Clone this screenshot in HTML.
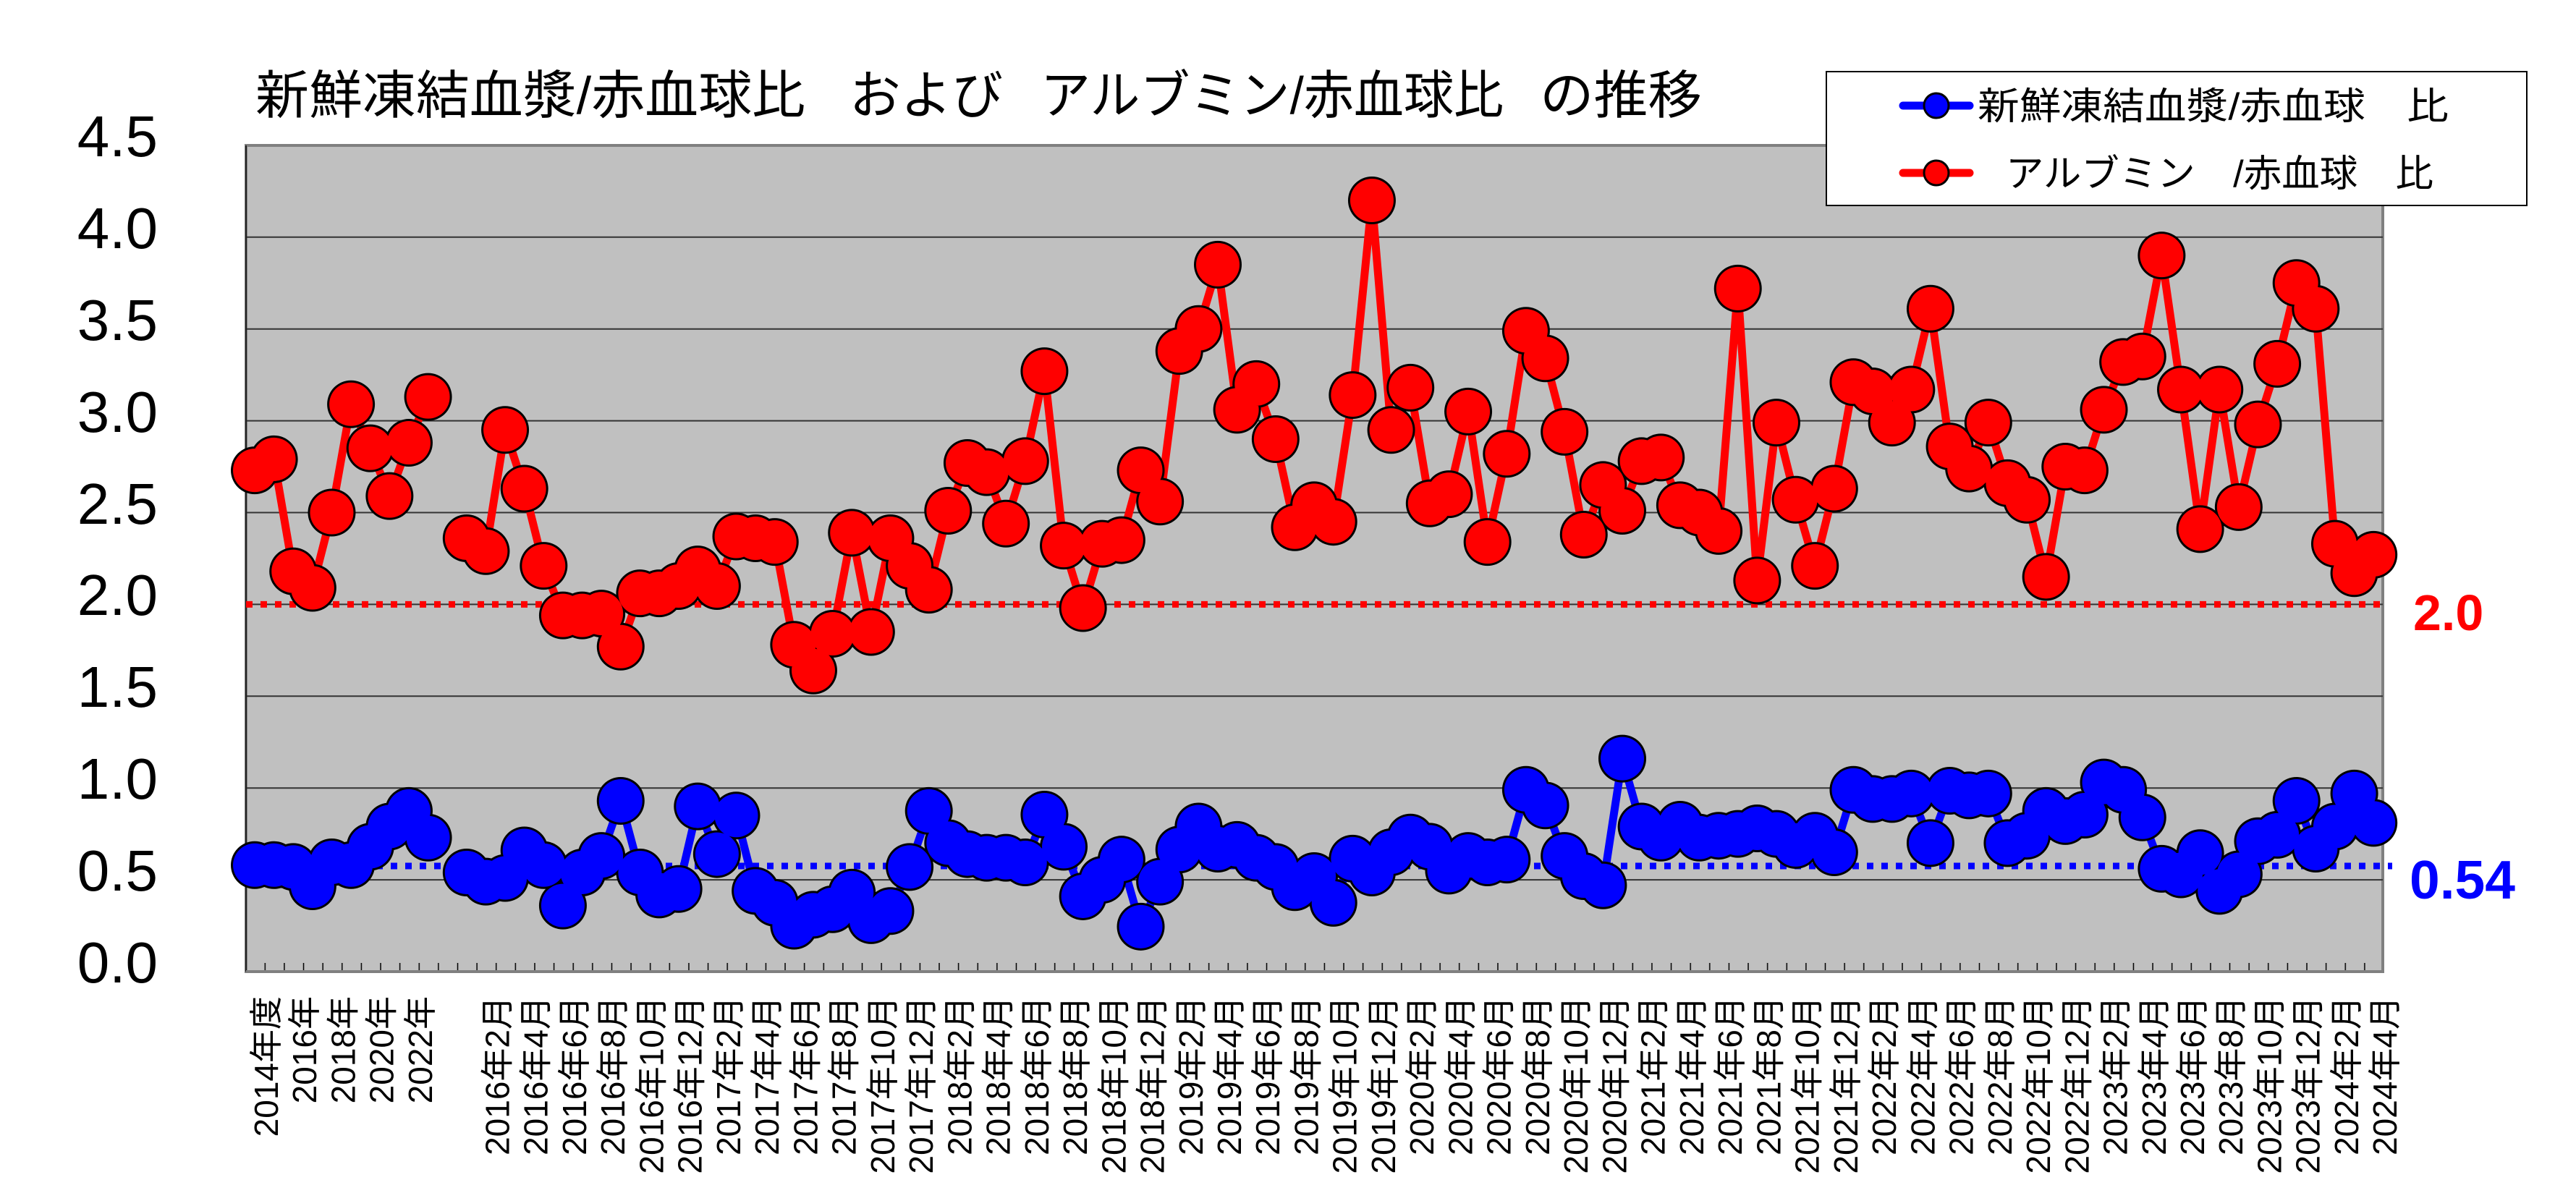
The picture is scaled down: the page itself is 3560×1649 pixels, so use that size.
<!DOCTYPE html>
<html><head><meta charset="utf-8"><style>
html,body{margin:0;padding:0;background:#fff;}
svg{display:block;}
text{font-family:"Liberation Sans","Noto Sans CJK JP",sans-serif;}
</style></head><body>
<svg width="3560" height="1649" viewBox="0 0 3560 1649" xmlns="http://www.w3.org/2000/svg">
<defs>
<pattern id="tk" patternUnits="userSpaceOnUse" x="365.31" y="0" width="26.62" height="1649">
<line x1="1" y1="0" x2="1" y2="1649" stroke="#000" stroke-width="1.5"/>
</pattern>
</defs>
<rect x="0" y="0" width="3560" height="1649" fill="#fff"/>
<rect x="340" y="201" width="2953" height="1142" fill="#c0c0c0" stroke="#808080" stroke-width="4"/>
<g stroke="#333" stroke-width="2">
<line x1="340" y1="1216.1" x2="3293" y2="1216.1"/>
<line x1="340" y1="1089.2" x2="3293" y2="1089.2"/>
<line x1="340" y1="962.3" x2="3293" y2="962.3"/>
<line x1="340" y1="835.4" x2="3293" y2="835.4"/>
<line x1="340" y1="708.5" x2="3293" y2="708.5"/>
<line x1="340" y1="581.6" x2="3293" y2="581.6"/>
<line x1="340" y1="454.7" x2="3293" y2="454.7"/>
<line x1="340" y1="327.8" x2="3293" y2="327.8"/>
</g>
<line x1="340" y1="201" x2="340" y2="1343" stroke="#222" stroke-width="2"/>
<rect x="342" y="1331" width="2950" height="12" fill="url(#tk)"/>
<line x1="340" y1="1343" x2="3293" y2="1343" stroke="#808080" stroke-width="4"/>

<line x1="340" y1="835.4" x2="3298" y2="835.4" stroke="#ff0000" stroke-width="9" stroke-dasharray="9 11"/>
<line x1="340" y1="1197" x2="3306" y2="1197" stroke="#0000ff" stroke-width="9" stroke-dasharray="9 11"/>

<g transform="translate(352,1343) scale(26.62,-253.8)" fill="none" stroke-linejoin="round">
<path vector-effect="non-scaling-stroke" stroke="#ff0000" stroke-width="11" d="M0 2.73L1 2.79L2 2.18L3 2.09L4 2.50L5 3.09L6 2.85L7 2.59L8 2.88L9 3.13
M11 2.36L12 2.29L13 2.95L14 2.63L15 2.21L16 1.94L17 1.94L18 1.95L19 1.77L20 2.06L21 2.06L22 2.10L23 2.19L24 2.10L25 2.37L26 2.36L27 2.34L28 1.78L29 1.64L30 1.84L31 2.39L32 1.85L33 2.36L34 2.21L35 2.08L36 2.51L37 2.77L38 2.72L39 2.44L40 2.78L41 3.27L42 2.32L43 1.98L44 2.33L45 2.35L46 2.73L47 2.56L48 3.38L49 3.50L50 3.85L51 3.06L52 3.20L53 2.90L54 2.42L55 2.54L56 2.45L57 3.14L58 4.20L59 2.95L60 3.18L61 2.55L62 2.60L63 3.05L64 2.34L65 2.82L66 3.49L67 3.34L68 2.94L69 2.38L70 2.65L71 2.51L72 2.78L73 2.80L74 2.54L75 2.50L76 2.40L77 3.72L78 2.13L79 2.99L80 2.57L81 2.21L82 2.63L83 3.21L84 3.16L85 2.99L86 3.17L87 3.61L88 2.86L89 2.74L90 2.99L91 2.66L92 2.57L93 2.15L94 2.75L95 2.73L96 3.06L97 3.32L98 3.35L99 3.90L100 3.17L101 2.41L102 3.17L103 2.53L104 2.98L105 3.31L106 3.75L107 3.61L108 2.33L109 2.17L110 2.27"/>
<path vector-effect="non-scaling-stroke" stroke="#000" stroke-width="66" stroke-linecap="round" d="M0 2.73h0M1 2.79h0M2 2.18h0M3 2.09h0M4 2.50h0M5 3.09h0M6 2.85h0M7 2.59h0M8 2.88h0M9 3.13h0M11 2.36h0M12 2.29h0M13 2.95h0M14 2.63h0M15 2.21h0M16 1.94h0M17 1.94h0M18 1.95h0M19 1.77h0M20 2.06h0M21 2.06h0M22 2.10h0M23 2.19h0M24 2.10h0M25 2.37h0M26 2.36h0M27 2.34h0M28 1.78h0M29 1.64h0M30 1.84h0M31 2.39h0M32 1.85h0M33 2.36h0M34 2.21h0M35 2.08h0M36 2.51h0M37 2.77h0M38 2.72h0M39 2.44h0M40 2.78h0M41 3.27h0M42 2.32h0M43 1.98h0M44 2.33h0M45 2.35h0M46 2.73h0M47 2.56h0M48 3.38h0M49 3.50h0M50 3.85h0M51 3.06h0M52 3.20h0M53 2.90h0M54 2.42h0M55 2.54h0M56 2.45h0M57 3.14h0M58 4.20h0M59 2.95h0M60 3.18h0M61 2.55h0M62 2.60h0M63 3.05h0M64 2.34h0M65 2.82h0M66 3.49h0M67 3.34h0M68 2.94h0M69 2.38h0M70 2.65h0M71 2.51h0M72 2.78h0M73 2.80h0M74 2.54h0M75 2.50h0M76 2.40h0M77 3.72h0M78 2.13h0M79 2.99h0M80 2.57h0M81 2.21h0M82 2.63h0M83 3.21h0M84 3.16h0M85 2.99h0M86 3.17h0M87 3.61h0M88 2.86h0M89 2.74h0M90 2.99h0M91 2.66h0M92 2.57h0M93 2.15h0M94 2.75h0M95 2.73h0M96 3.06h0M97 3.32h0M98 3.35h0M99 3.90h0M100 3.17h0M101 2.41h0M102 3.17h0M103 2.53h0M104 2.98h0M105 3.31h0M106 3.75h0M107 3.61h0M108 2.33h0M109 2.17h0M110 2.27h0"/>
<path vector-effect="non-scaling-stroke" stroke="#ff0000" stroke-width="60" stroke-linecap="round" d="M0 2.73h0M1 2.79h0M2 2.18h0M3 2.09h0M4 2.50h0M5 3.09h0M6 2.85h0M7 2.59h0M8 2.88h0M9 3.13h0M11 2.36h0M12 2.29h0M13 2.95h0M14 2.63h0M15 2.21h0M16 1.94h0M17 1.94h0M18 1.95h0M19 1.77h0M20 2.06h0M21 2.06h0M22 2.10h0M23 2.19h0M24 2.10h0M25 2.37h0M26 2.36h0M27 2.34h0M28 1.78h0M29 1.64h0M30 1.84h0M31 2.39h0M32 1.85h0M33 2.36h0M34 2.21h0M35 2.08h0M36 2.51h0M37 2.77h0M38 2.72h0M39 2.44h0M40 2.78h0M41 3.27h0M42 2.32h0M43 1.98h0M44 2.33h0M45 2.35h0M46 2.73h0M47 2.56h0M48 3.38h0M49 3.50h0M50 3.85h0M51 3.06h0M52 3.20h0M53 2.90h0M54 2.42h0M55 2.54h0M56 2.45h0M57 3.14h0M58 4.20h0M59 2.95h0M60 3.18h0M61 2.55h0M62 2.60h0M63 3.05h0M64 2.34h0M65 2.82h0M66 3.49h0M67 3.34h0M68 2.94h0M69 2.38h0M70 2.65h0M71 2.51h0M72 2.78h0M73 2.80h0M74 2.54h0M75 2.50h0M76 2.40h0M77 3.72h0M78 2.13h0M79 2.99h0M80 2.57h0M81 2.21h0M82 2.63h0M83 3.21h0M84 3.16h0M85 2.99h0M86 3.17h0M87 3.61h0M88 2.86h0M89 2.74h0M90 2.99h0M91 2.66h0M92 2.57h0M93 2.15h0M94 2.75h0M95 2.73h0M96 3.06h0M97 3.32h0M98 3.35h0M99 3.90h0M100 3.17h0M101 2.41h0M102 3.17h0M103 2.53h0M104 2.98h0M105 3.31h0M106 3.75h0M107 3.61h0M108 2.33h0M109 2.17h0M110 2.27h0"/>
<path vector-effect="non-scaling-stroke" stroke="#0000ff" stroke-width="11" d="M0 0.58L1 0.58L2 0.57L3 0.465L4 0.595L5 0.58L6 0.68L7 0.79L8 0.875L9 0.73
M11 0.54L12 0.49L13 0.51L14 0.66L15 0.58L16 0.36L17 0.54L18 0.63L19 0.93L20 0.54L21 0.42L22 0.45L23 0.90L24 0.64L25 0.85L26 0.44L27 0.375L28 0.25L29 0.31L30 0.34L31 0.43L32 0.28L33 0.33L34 0.57L35 0.875L36 0.70L37 0.64L38 0.62L39 0.62L40 0.595L41 0.855L42 0.68L43 0.41L44 0.50L45 0.61L46 0.245L47 0.49L48 0.665L49 0.79L50 0.67L51 0.69L52 0.62L53 0.57L54 0.46L55 0.52L56 0.375L57 0.615L58 0.54L59 0.65L60 0.73L61 0.68L62 0.55L63 0.63L64 0.595L65 0.61L66 0.99L67 0.905L68 0.63L69 0.52L70 0.47L71 1.16L72 0.79L73 0.73L74 0.80L75 0.73L76 0.74L77 0.75L78 0.78L79 0.75L80 0.69L81 0.74L82 0.65L83 0.99L84 0.94L85 0.94L86 0.97L87 0.70L88 0.985L89 0.96L90 0.97L91 0.70L92 0.74L93 0.875L94 0.82L95 0.855L96 1.03L97 0.99L98 0.84L99 0.56L100 0.53L101 0.645L102 0.44L103 0.53L104 0.71L105 0.745L106 0.93L107 0.67L108 0.79L109 0.97L110 0.81"/>
<path vector-effect="non-scaling-stroke" stroke="#000" stroke-width="66" stroke-linecap="round" d="M0 0.58h0M1 0.58h0M2 0.57h0M3 0.465h0M4 0.595h0M5 0.58h0M6 0.68h0M7 0.79h0M8 0.875h0M9 0.73h0M11 0.54h0M12 0.49h0M13 0.51h0M14 0.66h0M15 0.58h0M16 0.36h0M17 0.54h0M18 0.63h0M19 0.93h0M20 0.54h0M21 0.42h0M22 0.45h0M23 0.90h0M24 0.64h0M25 0.85h0M26 0.44h0M27 0.375h0M28 0.25h0M29 0.31h0M30 0.34h0M31 0.43h0M32 0.28h0M33 0.33h0M34 0.57h0M35 0.875h0M36 0.70h0M37 0.64h0M38 0.62h0M39 0.62h0M40 0.595h0M41 0.855h0M42 0.68h0M43 0.41h0M44 0.50h0M45 0.61h0M46 0.245h0M47 0.49h0M48 0.665h0M49 0.79h0M50 0.67h0M51 0.69h0M52 0.62h0M53 0.57h0M54 0.46h0M55 0.52h0M56 0.375h0M57 0.615h0M58 0.54h0M59 0.65h0M60 0.73h0M61 0.68h0M62 0.55h0M63 0.63h0M64 0.595h0M65 0.61h0M66 0.99h0M67 0.905h0M68 0.63h0M69 0.52h0M70 0.47h0M71 1.16h0M72 0.79h0M73 0.73h0M74 0.80h0M75 0.73h0M76 0.74h0M77 0.75h0M78 0.78h0M79 0.75h0M80 0.69h0M81 0.74h0M82 0.65h0M83 0.99h0M84 0.94h0M85 0.94h0M86 0.97h0M87 0.70h0M88 0.985h0M89 0.96h0M90 0.97h0M91 0.70h0M92 0.74h0M93 0.875h0M94 0.82h0M95 0.855h0M96 1.03h0M97 0.99h0M98 0.84h0M99 0.56h0M100 0.53h0M101 0.645h0M102 0.44h0M103 0.53h0M104 0.71h0M105 0.745h0M106 0.93h0M107 0.67h0M108 0.79h0M109 0.97h0M110 0.81h0"/>
<path vector-effect="non-scaling-stroke" stroke="#0000ff" stroke-width="60" stroke-linecap="round" d="M0 0.58h0M1 0.58h0M2 0.57h0M3 0.465h0M4 0.595h0M5 0.58h0M6 0.68h0M7 0.79h0M8 0.875h0M9 0.73h0M11 0.54h0M12 0.49h0M13 0.51h0M14 0.66h0M15 0.58h0M16 0.36h0M17 0.54h0M18 0.63h0M19 0.93h0M20 0.54h0M21 0.42h0M22 0.45h0M23 0.90h0M24 0.64h0M25 0.85h0M26 0.44h0M27 0.375h0M28 0.25h0M29 0.31h0M30 0.34h0M31 0.43h0M32 0.28h0M33 0.33h0M34 0.57h0M35 0.875h0M36 0.70h0M37 0.64h0M38 0.62h0M39 0.62h0M40 0.595h0M41 0.855h0M42 0.68h0M43 0.41h0M44 0.50h0M45 0.61h0M46 0.245h0M47 0.49h0M48 0.665h0M49 0.79h0M50 0.67h0M51 0.69h0M52 0.62h0M53 0.57h0M54 0.46h0M55 0.52h0M56 0.375h0M57 0.615h0M58 0.54h0M59 0.65h0M60 0.73h0M61 0.68h0M62 0.55h0M63 0.63h0M64 0.595h0M65 0.61h0M66 0.99h0M67 0.905h0M68 0.63h0M69 0.52h0M70 0.47h0M71 1.16h0M72 0.79h0M73 0.73h0M74 0.80h0M75 0.73h0M76 0.74h0M77 0.75h0M78 0.78h0M79 0.75h0M80 0.69h0M81 0.74h0M82 0.65h0M83 0.99h0M84 0.94h0M85 0.94h0M86 0.97h0M87 0.70h0M88 0.985h0M89 0.96h0M90 0.97h0M91 0.70h0M92 0.74h0M93 0.875h0M94 0.82h0M95 0.855h0M96 1.03h0M97 0.99h0M98 0.84h0M99 0.56h0M100 0.53h0M101 0.645h0M102 0.44h0M103 0.53h0M104 0.71h0M105 0.745h0M106 0.93h0M107 0.67h0M108 0.79h0M109 0.97h0M110 0.81h0"/>
</g>

<text x="3335" y="871" font-size="70" font-weight="bold" fill="#ff0000">2.0</text>
<text x="3330" y="1242" font-size="75" font-weight="bold" fill="#0000ff">0.54</text>

<g font-size="80" text-anchor="end" fill="#000">
<text x="218" y="216">4.5</text>
<text x="218" y="343">4.0</text>
<text x="218" y="470">3.5</text>
<text x="218" y="597">3.0</text>
<text x="218" y="724">2.5</text>
<text x="218" y="850">2.0</text>
<text x="218" y="977">1.5</text>
<text x="218" y="1104">1.0</text>
<text x="218" y="1231">0.5</text>
<text x="218" y="1358">0.0</text>
</g>

<g font-size="72" fill="#000">
<text x="353" y="157" textLength="760" lengthAdjust="spacingAndGlyphs">新鮮凍結血漿/赤血球比</text>
<text x="1174" y="157" textLength="212" lengthAdjust="spacingAndGlyphs">および</text>
<text x="1438" y="157" textLength="640" lengthAdjust="spacingAndGlyphs">アルブミン/赤血球比</text>
<text x="2128" y="157" textLength="224" lengthAdjust="spacingAndGlyphs">の推移</text>
</g>

<rect x="2524" y="99" width="968" height="185" fill="#fff" stroke="#000" stroke-width="2"/>
<line x1="2630" y1="146" x2="2722" y2="146" stroke="#0000ff" stroke-width="11" stroke-linecap="round"/>
<circle cx="2676" cy="146" r="17" fill="#0000ff" stroke="#000" stroke-width="3"/>
<line x1="2630" y1="239" x2="2722" y2="239" stroke="#ff0000" stroke-width="11" stroke-linecap="round"/>
<circle cx="2676" cy="239" r="17" fill="#ff0000" stroke="#000" stroke-width="3"/>
<g font-size="52" fill="#000">
<text x="2733" y="165" textLength="651" lengthAdjust="spacingAndGlyphs">新鮮凍結血漿/赤血球　比</text>
<text x="2772" y="258" textLength="591" lengthAdjust="spacingAndGlyphs">アルブミン　/赤血球　比</text>
</g>

<g font-size="46" fill="#000" text-anchor="end">
<text transform="translate(384,1377) rotate(-90)">2014年度</text>
<text transform="translate(437.2,1377) rotate(-90)">2016年</text>
<text transform="translate(490.5,1377) rotate(-90)">2018年</text>
<text transform="translate(543.7,1377) rotate(-90)">2020年</text>
<text transform="translate(597,1377) rotate(-90)">2022年</text>
<text transform="translate(703.4,1377) rotate(-90)">2016年2月</text>
<text transform="translate(756.7,1377) rotate(-90)">2016年4月</text>
<text transform="translate(809.9,1377) rotate(-90)">2016年6月</text>
<text transform="translate(863.2,1377) rotate(-90)">2016年8月</text>
<text transform="translate(916.4,1377) rotate(-90)">2016年10月</text>
<text transform="translate(969.6,1377) rotate(-90)">2016年12月</text>
<text transform="translate(1022.9,1377) rotate(-90)">2017年2月</text>
<text transform="translate(1076.1,1377) rotate(-90)">2017年4月</text>
<text transform="translate(1129.4,1377) rotate(-90)">2017年6月</text>
<text transform="translate(1182.6,1377) rotate(-90)">2017年8月</text>
<text transform="translate(1235.8,1377) rotate(-90)">2017年10月</text>
<text transform="translate(1289.1,1377) rotate(-90)">2017年12月</text>
<text transform="translate(1342.3,1377) rotate(-90)">2018年2月</text>
<text transform="translate(1395.6,1377) rotate(-90)">2018年4月</text>
<text transform="translate(1448.8,1377) rotate(-90)">2018年6月</text>
<text transform="translate(1502,1377) rotate(-90)">2018年8月</text>
<text transform="translate(1555.3,1377) rotate(-90)">2018年10月</text>
<text transform="translate(1608.5,1377) rotate(-90)">2018年12月</text>
<text transform="translate(1661.8,1377) rotate(-90)">2019年2月</text>
<text transform="translate(1715,1377) rotate(-90)">2019年4月</text>
<text transform="translate(1768.2,1377) rotate(-90)">2019年6月</text>
<text transform="translate(1821.5,1377) rotate(-90)">2019年8月</text>
<text transform="translate(1874.7,1377) rotate(-90)">2019年10月</text>
<text transform="translate(1928,1377) rotate(-90)">2019年12月</text>
<text transform="translate(1981.2,1377) rotate(-90)">2020年2月</text>
<text transform="translate(2034.4,1377) rotate(-90)">2020年4月</text>
<text transform="translate(2087.7,1377) rotate(-90)">2020年6月</text>
<text transform="translate(2140.9,1377) rotate(-90)">2020年8月</text>
<text transform="translate(2194.2,1377) rotate(-90)">2020年10月</text>
<text transform="translate(2247.4,1377) rotate(-90)">2020年12月</text>
<text transform="translate(2300.6,1377) rotate(-90)">2021年2月</text>
<text transform="translate(2353.9,1377) rotate(-90)">2021年4月</text>
<text transform="translate(2407.1,1377) rotate(-90)">2021年6月</text>
<text transform="translate(2460.4,1377) rotate(-90)">2021年8月</text>
<text transform="translate(2513.6,1377) rotate(-90)">2021年10月</text>
<text transform="translate(2566.8,1377) rotate(-90)">2021年12月</text>
<text transform="translate(2620.1,1377) rotate(-90)">2022年2月</text>
<text transform="translate(2673.3,1377) rotate(-90)">2022年4月</text>
<text transform="translate(2726.6,1377) rotate(-90)">2022年6月</text>
<text transform="translate(2779.8,1377) rotate(-90)">2022年8月</text>
<text transform="translate(2833,1377) rotate(-90)">2022年10月</text>
<text transform="translate(2886.3,1377) rotate(-90)">2022年12月</text>
<text transform="translate(2939.5,1377) rotate(-90)">2023年2月</text>
<text transform="translate(2992.8,1377) rotate(-90)">2023年4月</text>
<text transform="translate(3046,1377) rotate(-90)">2023年6月</text>
<text transform="translate(3099.2,1377) rotate(-90)">2023年8月</text>
<text transform="translate(3152.5,1377) rotate(-90)">2023年10月</text>
<text transform="translate(3205.7,1377) rotate(-90)">2023年12月</text>
<text transform="translate(3259,1377) rotate(-90)">2024年2月</text>
<text transform="translate(3312.2,1377) rotate(-90)">2024年4月</text>
</g>
</svg>
</body></html>
